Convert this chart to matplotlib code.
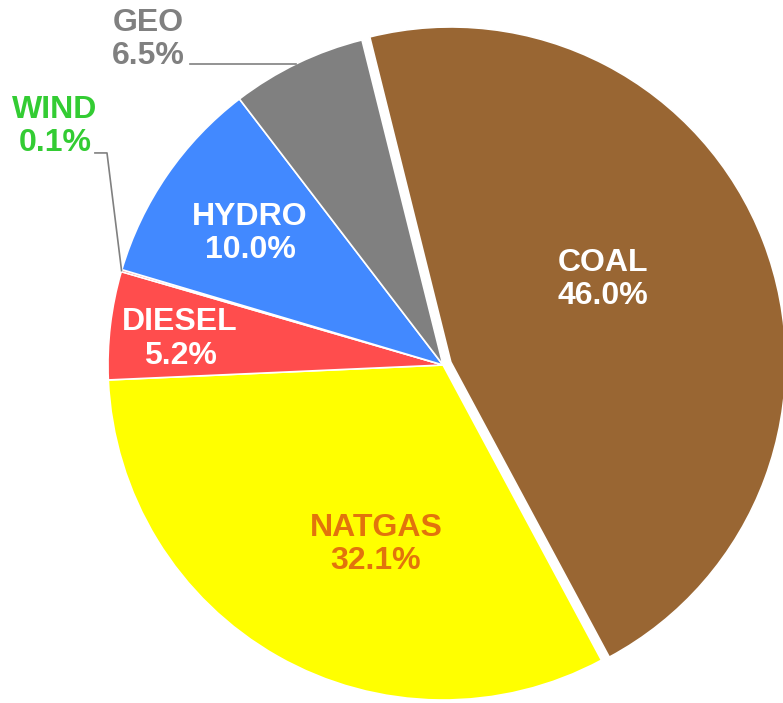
import numpy as np
import matplotlib.pyplot as plt

# generation mix, clockwise from the top
sources = ["COAL", "NATGAS", "DIESEL", "WIND", "HYDRO", "GEO"]
shares = [46.0, 32.1, 5.2, 0.1, 10.0, 6.5]
colors = ["#996633", "#ffff00", "#ff4d4d", "#ff4d4d", "#4289ff", "#808080"]
text_colors = ["white", "#e2730c", "white", "#33cc33", "white", "#808080"]
explode = [0.025, 0, 0, 0, 0, 0]

# label placement (data units, pie radius = 1)
label_pos = {
    "COAL": (0.478, 0.255),
    "NATGAS": (-0.20, -0.535),
    "DIESEL": (-0.785, 0.077),
    "HYDRO": (-0.576, 0.392),
    "GEO": (-0.881, 0.972),
    "WIND": (-1.158, 0.712),
}
# outside labels get a leader line: (start x, start y, elbow x)
leaders = {
    "GEO": (-0.755, 0.899, None),
    "WIND": (-1.039, 0.633, -1.003),
}

plt.rcParams["font.family"] = ["Liberation Sans", "DejaVu Sans"]

fig = plt.figure(figsize=(7.83, 7.03), dpi=100)
ax = fig.add_axes([108 / 783, 3 / 703, 670 / 783, 670 / 703])

wedges, _ = ax.pie(shares, colors=colors, explode=explode, startangle=104,
                   counterclock=False, radius=1,
                   wedgeprops=dict(edgecolor="white", linewidth=1.2))
for w in wedges:
    w.set_clip_on(False)

ax.set_xlim(-1, 1)
ax.set_ylim(-1, 1)
ax.set_aspect("equal")
ax.axis("off")

for name, val, w, tc in zip(sources, shares, wedges, text_colors):
    x, y = label_pos[name]
    ax.text(x, y, f"{name}\n{val:.1f}%", ha="center", va="center",
            color=tc, fontsize=23, fontweight="bold", linespacing=1.15)
    if name in leaders:
        sx, sy, ex = leaders[name]
        mid = np.deg2rad((w.theta1 + w.theta2) / 2)
        if name == "GEO":
            end_x = -np.sqrt(1 - sy ** 2)
            xs, ys = [sx, end_x], [sy, sy]
        else:
            xs = [sx, ex, np.cos(mid)]
            ys = [sy, sy, np.sin(mid)]
        ax.plot(xs, ys, color="#808080", lw=1.2, clip_on=False)

fig.savefig("out.png", dpi=100)
